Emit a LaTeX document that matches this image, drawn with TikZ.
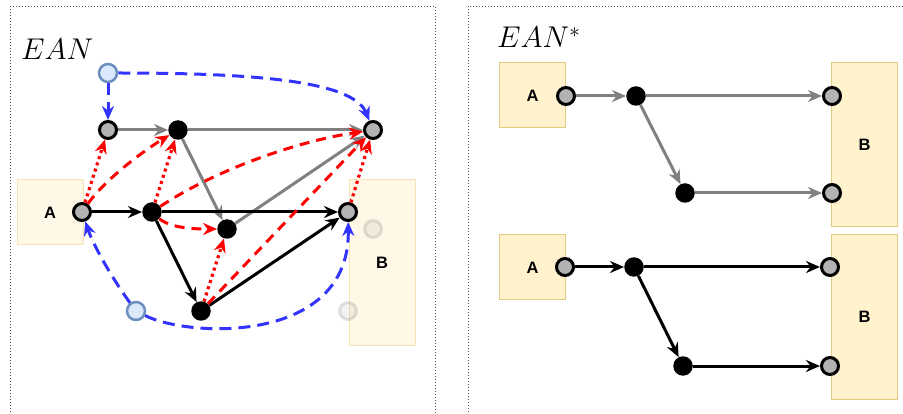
\RequirePackage{fix-cm}
\documentclass[tikz,border=0pt]{standalone}
\usepackage{fontspec}
\newfontfamily\labelfont{Liberation Sans}
\usetikzlibrary{arrows.meta}
\definecolor{boxfill}{HTML}{FFF2CC}
\definecolor{boxline}{HTML}{E2CB7E}
\definecolor{paleboxfill}{HTML}{FFF8E6}
\definecolor{paleboxline}{HTML}{F3E3B5}
\definecolor{portgray}{HTML}{B3B3B3}
\definecolor{edgegray}{HTML}{808080}
\definecolor{srcfill}{HTML}{DAE8FC}
\definecolor{srcline}{HTML}{6C8EBF}
\definecolor{flowblue}{HTML}{3333FF}
\definecolor{flowred}{HTML}{FF0000}
\definecolor{framegray}{HTML}{555555}
\begin{document}
\begin{tikzpicture}[x=1pt,y=-1pt,
  flowtip/.style={-{Stealth[length=14pt,width=12pt,inset=4.5pt]}},
  portnode/.style={circle,draw=black,fill=portgray,line width=3pt,minimum size=17pt,inner sep=0pt},
  joinnode/.style={circle,fill=black,minimum size=19.5pt,inner sep=0pt},
  srcnode/.style={circle,draw=srcline,fill=srcfill,line width=2.5pt,minimum size=18pt,inner sep=0pt},
  ghostnode/.style={circle,draw=gray,fill=gray,draw opacity=0.22,fill opacity=0.10,line width=3pt,minimum size=17pt,inner sep=0pt},
  blockbox/.style={draw=boxline,fill=boxfill,line width=1pt,inner sep=0pt,minimum width=66pt,font=\labelfont\bfseries\fontsize{16.5}{18}\selectfont},
  paleblockbox/.style={blockbox,draw=paleboxline,fill=paleboxfill},
  grayedge/.style={draw=edgegray,line width=3pt,flowtip},
  blackedge/.style={draw=black,line width=3pt,flowtip},
  reddash/.style={draw=flowred,line width=3pt,dash pattern=on 10pt off 7pt,flowtip},
  reddot/.style={draw=flowred,line width=3.2pt,dash pattern=on 3pt off 3.5pt,flowtip},
  bluedash/.style={draw=flowblue,line width=3pt,dash pattern=on 12pt off 7pt,flowtip},
  panelframe/.style={draw=framegray,line width=0.8pt,dash pattern=on 1.2pt off 1.8pt},
  titletext/.style={anchor=base west,inner sep=0pt,font=\fontsize{30}{36}\selectfont},
]
\useasboundingbox (0,0) rectangle (903,414);
\clip (0,0) rectangle (903,414);

% panel frames
\draw[panelframe] (10,6) -- (435,6) -- (435,430);
\draw[panelframe] (10,6) -- (10,430);
\draw[panelframe] (468,430) -- (468,6) -- (915,6);

% ---------------- left panel: EAN ----------------
\node[titletext] (tl) at (21,60) {$EAN$};

\node[paleblockbox,minimum height=65pt] (boxA) at (50,212.5) {A};
\node[paleblockbox,minimum height=165pt] (boxB) at (382,262.5) {B};

\node[ghostnode] (gh1) at (373,229) {};
\node[ghostnode] (gh2) at (348,311) {};

\node[portnode] (pA)  at (82,212) {};
\node[portnode] (pB)  at (348,212) {};
\node[portnode] (pTL) at (108,130) {};
\node[portnode] (pTR) at (373,130) {};
\node[joinnode] (jT)  at (178,130) {};
\node[joinnode] (jM)  at (152,212) {};
\node[joinnode] (jC)  at (227,229) {};
\node[joinnode] (jB)  at (201,311) {};
\node[srcnode]  (sT)  at (108,73) {};
\node[srcnode]  (sB)  at (136,311) {};

% grey flows (upper copy)
\draw[grayedge] (pTL) -- (jT);
\draw[grayedge] (jT) -- (pTR);
\draw[grayedge] (jT) -- (jC);
\draw[grayedge] (jC) -- (pTR);

% black flows (lower copy)
\draw[blackedge] (pA) -- (jM);
\draw[blackedge] (jM) -- (pB);
\draw[blackedge] (jM) -- (jB);
\draw[blackedge] (jB) -- (pB);

% red dotted correspondences
\draw[reddot] (pA) -- (pTL);
\draw[reddot] (jM) -- (jT);
\draw[reddot] (jB) -- (jC);
\draw[reddot] (pB) -- (pTR);

% red dashed correspondences
\draw[reddash] (pA) .. controls +(25,-35) and +(-30,18) .. (jT);
\draw[reddash] (jM) .. controls +(60,-40) and +(-80,12) .. (pTR);
\draw[reddash] (jM) .. controls +(20,18) and +(-20,0) .. (jC);
\draw[reddash] (jB) -- (pTR);

% blue dashed source links
\draw[bluedash] (sT) -- (pTL);
\draw[bluedash] (sT) .. controls +(140,0) and +(-20,-50) .. (pTR);
\draw[bluedash] (sB) .. controls +(-22,-30) and +(12,35) .. (pA);
\draw[bluedash] (sB) .. controls +(54,27) and +(2,132) .. (pB);

% ---------------- right panel: EAN* ----------------
\node[titletext] (tr) at (497,48) {$EAN^*$};

% grey copy
\node[blockbox,minimum height=65pt] (rA1) at (532.5,95.5) {A};
\node[blockbox,minimum height=164pt] (rB1) at (864.5,145) {B};
\node[portnode] (qA1)  at (566,96) {};
\node[joinnode] (qJ1)  at (636,96) {};
\node[joinnode] (qK1)  at (685,193) {};
\node[portnode] (qB1)  at (832,96) {};
\node[portnode] (qB1b) at (832,193) {};
\draw[grayedge] (qA1) -- (qJ1);
\draw[grayedge] (qJ1) -- (qB1);
\draw[grayedge] (qJ1) -- (qK1);
\draw[grayedge] (qK1) -- (qB1b);

% black copy
\node[blockbox,minimum height=65pt] (rA2) at (532.5,267.5) {A};
\node[blockbox,minimum height=164pt] (rB2) at (864.5,317) {B};
\node[portnode] (qA2)  at (565,267) {};
\node[joinnode] (qJ2)  at (634,267) {};
\node[joinnode] (qK2)  at (683,366) {};
\node[portnode] (qB2)  at (830,267) {};
\node[portnode] (qB2b) at (830,366) {};
\draw[blackedge] (qA2) -- (qJ2);
\draw[blackedge] (qJ2) -- (qB2);
\draw[blackedge] (qJ2) -- (qK2);
\draw[blackedge] (qK2) -- (qB2b);
\end{tikzpicture}
\end{document}
